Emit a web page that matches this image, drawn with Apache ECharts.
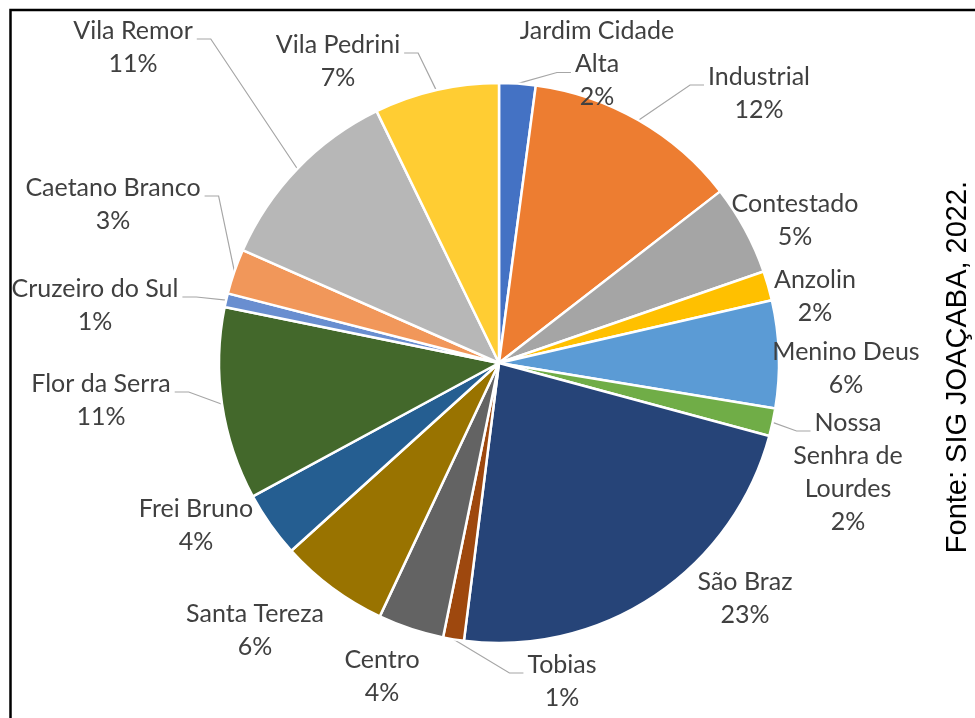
<!DOCTYPE html>
<html>
<head>
<meta charset="utf-8">
<script src="https://cdn.jsdelivr.net/npm/echarts@6/dist/echarts.min.js"></script>
<style>
  html, body { margin: 0; padding: 0; background: #ffffff; }
  #chart { width: 975px; height: 718px; }
</style>
</head>
<body>
<div id="chart"></div>
<script>
// Neighbourhood shares (%)
const categories = [
  'Jardim Cidade Alta', 'Industrial', 'Contestado', 'Anzolin', 'Menino Deus',
  'Nossa Senhra de Lourdes', 'São Braz', 'Tobias', 'Centro', 'Santa Tereza',
  'Frei Bruno', 'Flor da Serra', 'Cruzeiro do Sul', 'Caetano Branco',
  'Vila Remor', 'Vila Pedrini'
];
const shares = [2.1, 12.4, 5.2, 1.7, 6.2, 1.6, 22.8, 1.2, 3.8, 6.3, 3.8, 11.1, 0.8, 2.6, 11.2, 7.2];
const sliceColors = [
  '#4472C4', '#ED7D31', '#A5A5A5', '#FFC000', '#5B9BD5', '#70AD47', '#264478', '#9E480E',
  '#636363', '#997300', '#255E91', '#43682B', '#698ED0', '#F1975A', '#B7B7B7', '#FFCD33'
];
const sourceNote = 'Fonte: SIG JOAÇABA, 2022.';

// Label wrapping and which labels get a leader line
const labelBreaks = {
  'Jardim Cidade Alta': 'Jardim Cidade\nAlta',
  'Nossa Senhra de Lourdes': 'Nossa\nSenhra de\nLourdes'
};
const leaderLabels = ['Jardim Cidade Alta', 'Industrial', 'Nossa Senhra de Lourdes', 'Tobias',
  'Flor da Serra', 'Cruzeiro do Sul', 'Caetano Branco', 'Vila Remor', 'Vila Pedrini'];

// Pie geometry and label placement
const CX = 499, CY = 363, R = 280;
const LABEL_FONT = 25, LINE_H = 33, FONT_FAMILY = 'Lato';
const labelCenters = [
  [597, 64], [759, 93], [795, 220], [815, 296], [846, 368], [848, 472], [745, 598], [562, 681],
  [382, 676], [255, 630], [196, 525], [101, 400], [95, 305], [113, 204], [133, 47], [338, 61]
];

const total = shares.reduce((a, b) => a + b, 0);
const midAngles = [];
(function () {
  let acc = 0;
  shares.forEach(v => {
    const a0 = acc / total * 2 * Math.PI;
    acc += v;
    const a1 = acc / total * 2 * Math.PI;
    midAngles.push((a0 + a1) / 2);
  });
})();

const measureCtx = document.createElement('canvas').getContext('2d');
measureCtx.font = LABEL_FONT + 'px ' + FONT_FAMILY;

function labelText(i) {
  const name = labelBreaks[categories[i]] || categories[i];
  return name + '\n' + Math.round(shares[i] / total * 100) + '%';
}

const chart = echarts.init(document.getElementById('chart'), null, { renderer: 'canvas' });

const data = categories.map((name, i) => ({
  name: name,
  value: shares[i],
  itemStyle: { color: sliceColors[i] },
  labelLine: { show: leaderLabels.indexOf(name) >= 0 }
}));

chart.setOption({
  animation: false,
  graphic: [
    {
      type: 'polyline',
      shape: { points: [[10.5, 718], [10.5, 10], [975, 10]] },
      style: { stroke: '#000000', lineWidth: 2.5, fill: null },
      silent: true
    },
    {
      type: 'text',
      x: 958, y: 367,
      rotation: Math.PI / 2,
      style: {
        text: sourceNote,
        font: '29px "Liberation Sans", Arial, sans-serif',
        fill: '#000000',
        align: 'center',
        verticalAlign: 'middle'
      },
      silent: true
    }
  ],
  series: [{
    type: 'pie',
    center: [CX, CY],
    radius: R,
    startAngle: 90,
    clockwise: true,
    avoidLabelOverlap: false,
    emphasis: { disabled: true },
    itemStyle: { borderColor: '#ffffff', borderWidth: 2.5 },
    label: {
      show: true,
      position: 'outside',
      formatter: p => labelText(p.dataIndex),
      color: '#404040',
      fontFamily: FONT_FAMILY,
      fontSize: LABEL_FONT,
      lineHeight: LINE_H,
      align: 'center'
    },
    labelLine: {
      length: 10, length2: 10,
      lineStyle: { color: '#A6A6A6', width: 1.2 }
    },
    labelLayout: function (params) {
      const i = params.dataIndex;
      const [lx, ly] = labelCenters[i];
      const lines = labelText(i).split('\n');
      const top = ly - lines.length * LINE_H / 2;
      const a = midAngles[i];
      const rimX = CX + R * Math.sin(a);
      const rimY = CY - R * Math.cos(a);
      const yMin = top + 25;
      const yMax = top + 25 + LINE_H * Math.max(0, lines.length - 2);
      const ey = Math.max(yMin, Math.min(yMax, rimY));
      const li = Math.min(lines.length - 1, Math.max(0, Math.floor((ey - top) / LINE_H)));
      const w = measureCtx.measureText(lines[li]).width;
      const toRight = lx > rimX;
      const endX = toRight ? lx - w / 2 - 4 : lx + w / 2 + 4;
      const elbowX = toRight ? endX - 14 : endX + 14;
      return {
        x: lx,
        y: ly,
        align: 'center',
        verticalAlign: 'middle',
        labelLinePoints: [[rimX, rimY], [elbowX, ey], [endX, ey]]
      };
    },
    data: data
  }]
});
</script>
</body>
</html>
